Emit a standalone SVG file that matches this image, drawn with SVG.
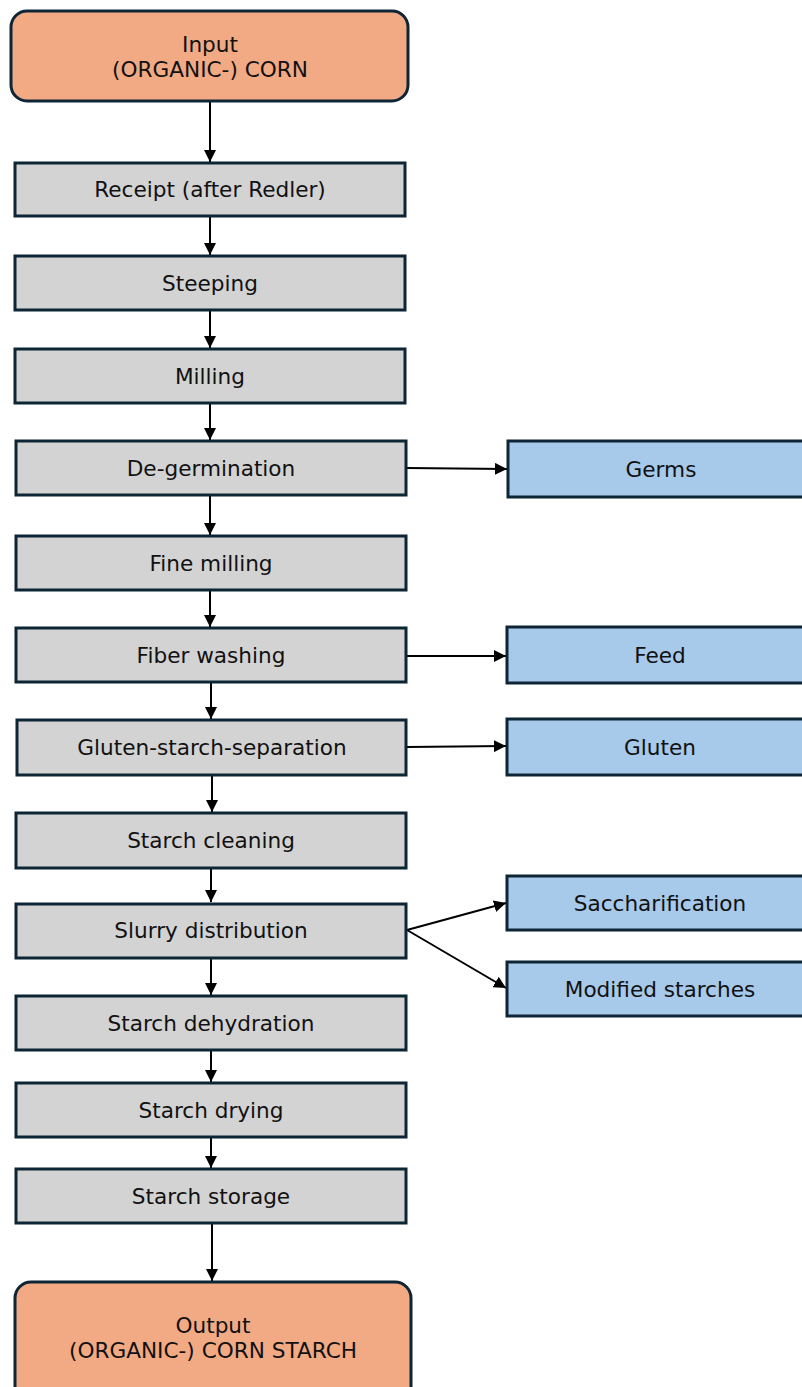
<svg xmlns="http://www.w3.org/2000/svg" width="802" height="1387" viewBox="0 0 802 1387">
<style>
.io{fill:#f2aa84;stroke:#0d2535;stroke-width:3}
.st{fill:#d3d3d3;stroke:#0d2535;stroke-width:3}
.bp{fill:#a7c9ea;stroke:#0d2535;stroke-width:3}
text{font-family:"DejaVu Sans","Liberation Sans",sans-serif;font-size:21.6px;fill:#111;text-anchor:middle}
.c{stroke:#000;stroke-width:2;fill:none;marker-end:url(#ah)}
</style>
<defs>
<marker id="ah" markerUnits="userSpaceOnUse" markerWidth="12" markerHeight="12" viewBox="0 0 12 12" refX="12" refY="6" orient="auto">
<path d="M0,0 L12,6 L0,12 z" fill="#000"/>
</marker>
</defs>
<rect width="802" height="1387" fill="#fff"/>
<g id="connectors">
<line class="c" x1="210" y1="102" x2="210" y2="162"/>
<line class="c" x1="210" y1="217" x2="210" y2="255"/>
<line class="c" x1="210" y1="311" x2="210" y2="348"/>
<line class="c" x1="210" y1="404" x2="210" y2="440"/>
<line class="c" x1="210" y1="496" x2="210" y2="535"/>
<line class="c" x1="210" y1="591" x2="210" y2="627"/>
<line class="c" x1="211" y1="683" x2="211" y2="719"/>
<line class="c" x1="212" y1="776" x2="212" y2="812"/>
<line class="c" x1="211" y1="869" x2="211" y2="902"/>
<line class="c" x1="211" y1="959" x2="211" y2="995"/>
<line class="c" x1="211" y1="1051" x2="211" y2="1082"/>
<line class="c" x1="211" y1="1138" x2="211" y2="1168"/>
<line class="c" x1="212" y1="1224" x2="212" y2="1281"/>
<line class="c" x1="407" y1="468" x2="507" y2="469"/>
<line class="c" x1="407" y1="656" x2="506" y2="656"/>
<line class="c" x1="407" y1="747" x2="506" y2="746"/>
<line class="c" x1="407" y1="930" x2="506" y2="903"/>
<line class="c" x1="407" y1="930" x2="506" y2="988"/>
</g>
<g id="input"><rect class="io" x="11" y="11" width="397" height="90" rx="16"/><text x="210" y="52">Input</text><text x="210" y="77">(ORGANIC-) CORN</text></g>
<g id="receipt"><rect class="st" x="15" y="163" width="390" height="53"/><text x="210" y="197">Receipt (after Redler)</text></g>
<g id="steeping"><rect class="st" x="15" y="256" width="390" height="54"/><text x="210" y="291">Steeping</text></g>
<g id="milling"><rect class="st" x="15" y="349" width="390" height="54"/><text x="210" y="384">Milling</text></g>
<g id="degermination"><rect class="st" x="16" y="441" width="390" height="54"/><text x="211" y="476">De-germination</text></g>
<g id="finemilling"><rect class="st" x="16" y="536" width="390" height="54"/><text x="211" y="571">Fine milling</text></g>
<g id="fiberwashing"><rect class="st" x="16" y="628" width="390" height="54"/><text x="211" y="663">Fiber washing</text></g>
<g id="glutensep"><rect class="st" x="17" y="720" width="389" height="55"/><text x="212" y="755">Gluten-starch-separation</text></g>
<g id="starchcleaning"><rect class="st" x="16" y="813" width="390" height="55"/><text x="211" y="848">Starch cleaning</text></g>
<g id="slurry"><rect class="st" x="16" y="904" width="390" height="54"/><text x="211" y="938">Slurry distribution</text></g>
<g id="dehydration"><rect class="st" x="16" y="996" width="390" height="54"/><text x="211" y="1031">Starch dehydration</text></g>
<g id="drying"><rect class="st" x="16" y="1083" width="390" height="54"/><text x="211" y="1118">Starch drying</text></g>
<g id="storage"><rect class="st" x="16" y="1169" width="390" height="54"/><text x="211" y="1204">Starch storage</text></g>
<g id="output"><rect class="io" x="15" y="1282" width="396" height="130" rx="16"/><text x="213" y="1333">Output</text><text x="213" y="1358">(ORGANIC-) CORN STARCH</text></g>
<g id="germs"><rect class="bp" x="508" y="441" width="300" height="56"/><text x="661" y="477">Germs</text></g>
<g id="feed"><rect class="bp" x="507" y="627" width="300" height="56"/><text x="660" y="663">Feed</text></g>
<g id="gluten"><rect class="bp" x="507" y="719" width="300" height="56"/><text x="660" y="755">Gluten</text></g>
<g id="saccharification"><rect class="bp" x="507" y="876" width="300" height="54"/><text x="660" y="911">Saccharification</text></g>
<g id="modified"><rect class="bp" x="507" y="962" width="300" height="54"/><text x="660" y="997">Modified starches</text></g>
</svg>
